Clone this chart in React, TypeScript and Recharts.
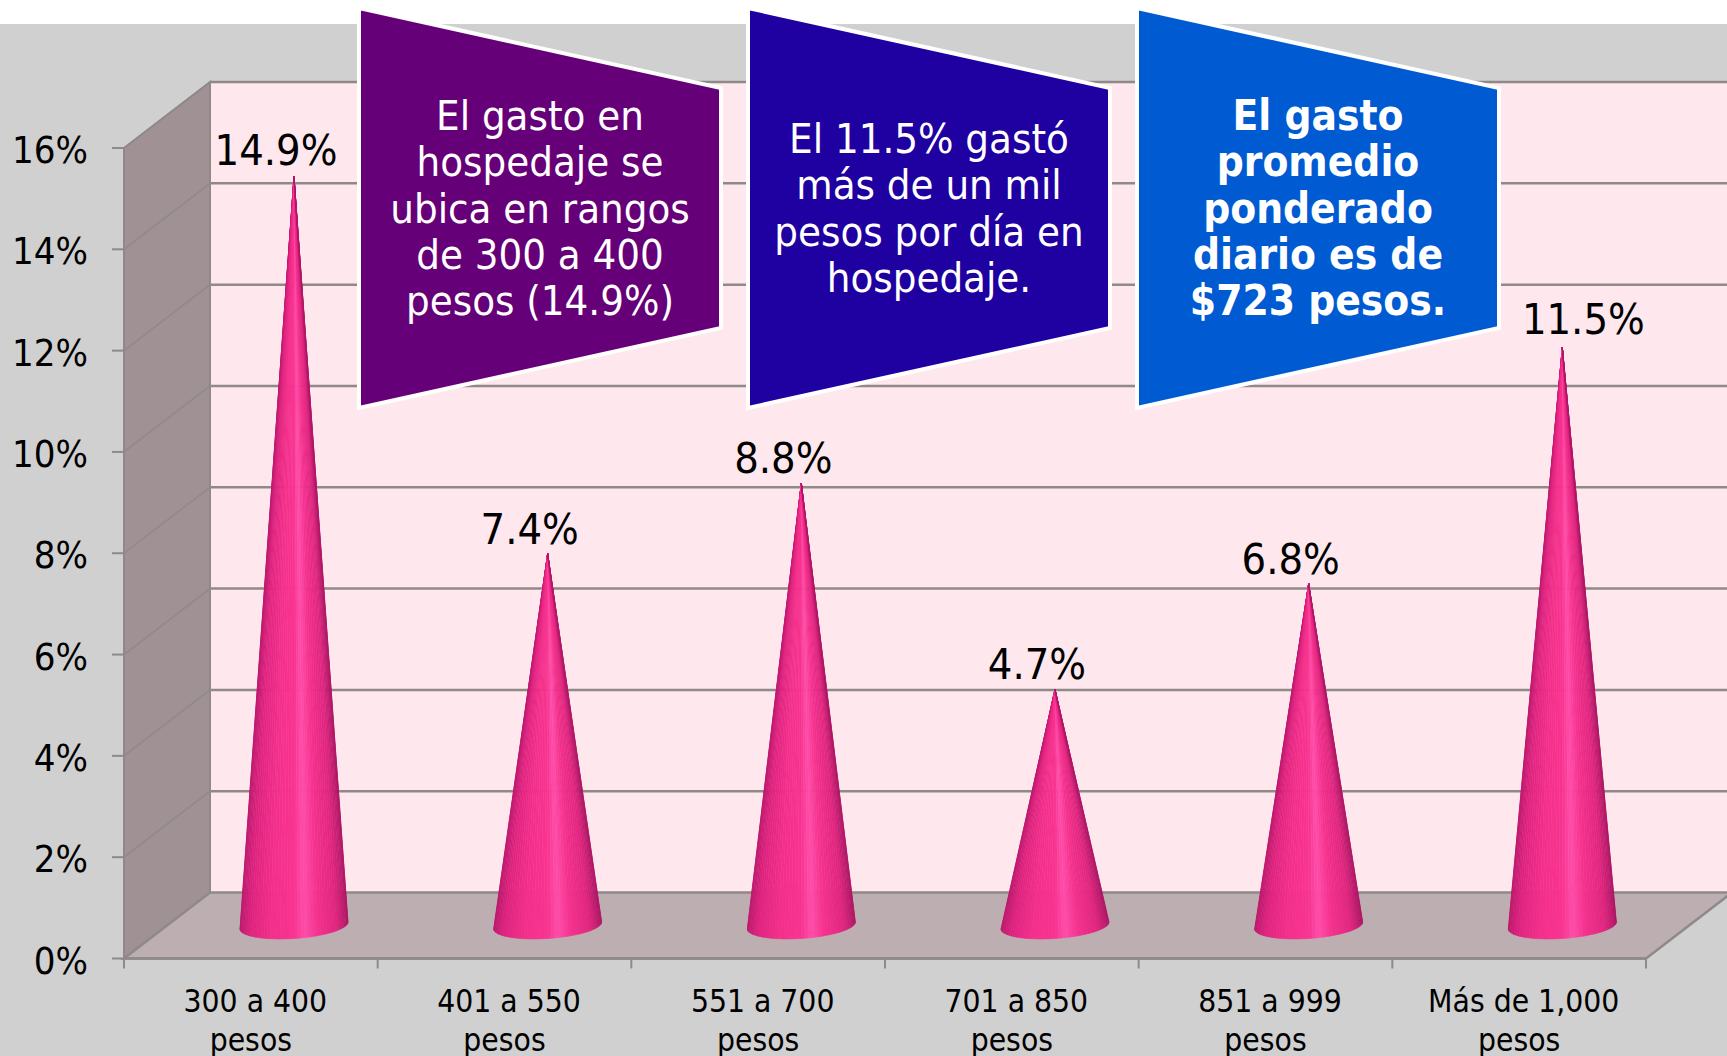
import React from 'react';
import {
  Bar,
  BarChart,
  LabelList,
  ReferenceArea,
  ReferenceLine,
  XAxis,
  YAxis,
} from 'recharts';

const categories = [
  '300 a 400 pesos',
  '401 a 550 pesos',
  '551 a 700 pesos',
  '701 a 850 pesos',
  '851 a 999 pesos',
  'Más de 1,000 pesos',
];
const shares = [14.9, 7.4, 8.8, 4.7, 6.8, 11.5];
const yTicks = [0, 2, 4, 6, 8, 10, 12, 14, 16];

const purpleNote = ['El gasto en', 'hospedaje se', 'ubica en rangos', 'de 300 a 400', 'pesos (14.9%)'];
const indigoNote = ['El 11.5% gastó', 'más de un mil', 'pesos por día en', 'hospedaje.'];
const blueNote = ['El gasto', 'promedio', 'ponderado', 'diario es de', '$723 pesos.'];

const chartData = categories.map((name, i) => ({ name, share: shares[i] }));

const WIDTH = 1727;
const HEIGHT = 1056;
const DEPTH_X = 86;
const DEPTH_Y = 66;
const FONT = '"DejaVu Sans Condensed", "DejaVu Sans", sans-serif';
const LINE = '#8f8989';

// colours across a cone, left edge to right edge
const coneStops: [number, number[]][] = [
  [0, [190, 26, 110]],
  [0.1, [224, 36, 128]],
  [0.3, [244, 48, 140]],
  [0.5, [248, 52, 144]],
  [0.6, [255, 78, 170]],
  [0.72, [245, 50, 142]],
  [0.9, [224, 38, 128]],
  [1, [176, 24, 102]],
];

const coneColor = (t: number) => {
  let k = 1;
  while (k < coneStops.length - 1 && coneStops[k][0] < t) k++;
  const [t0, c0] = coneStops[k - 1];
  const [t1, c1] = coneStops[k];
  const f = (t - t0) / (t1 - t0);
  const c = c0.map((v, j) => Math.round(v + (c1[j] - v) * f));
  return `rgb(${c.join(',')})`;
};

// the floor sits half a depth behind the axis and the cones rise a touch less than the wall scale
const coneTip = (y: number, height: number) => y + height - DEPTH_Y / 2 - height * 0.992;

const Cone = (props: any) => {
  const { x, y, width, height } = props;
  const cx = x + width / 2 + DEPTH_X / 2;
  const tipY = coneTip(y, height);
  const baseY = y + height - DEPTH_Y / 2;
  const rx = width / 2;
  const ry = 13;
  const tilt = 3.5;
  const slices = 48;
  const edge = (i: number) => {
    const theta = Math.PI - (Math.PI * i) / slices;
    return [cx + rx * Math.cos(theta), baseY + ry * Math.sin(theta) - tilt * Math.cos(theta)];
  };
  return (
    <g>
      {Array.from({ length: slices }, (_, i) => {
        const a = edge(i);
        const b = edge(i + 1);
        const fill = coneColor((a[0] + b[0] - 2 * (cx - rx)) / 2 / (2 * rx));
        return (
          <polygon
            key={i}
            points={`${cx},${tipY} ${a[0]},${a[1]} ${b[0]},${b[1]}`}
            fill={fill}
            stroke={fill}
            strokeWidth={0.6}
          />
        );
      })}
    </g>
  );
};

const ShareLabel = (props: any) => {
  const { x, y, width, height, value, index } = props;
  const last = index === categories.length - 1;
  const lift = last ? 14 : index === 0 ? 12 : 10;
  return (
    <text
      x={x + width / 2 + DEPTH_X / 2 + (last ? 21 : -18)}
      y={coneTip(y, height) - lift}
      textAnchor="middle"
      fontFamily={FONT}
      fontSize={43}
      fill="#000"
    >
      {value.toFixed(1)}%
    </text>
  );
};

const YTick = (props: any) => {
  const { x, y, payload } = props;
  return (
    <g>
      <line x1={x - 4} x2={x + 8} y1={y} y2={y} stroke={LINE} strokeWidth={2} />
      <text x={x - 28} y={y + 15} textAnchor="end" fontFamily={FONT} fontSize={38} fill="#000">
        {payload.value}%
      </text>
    </g>
  );
};

const XTick = (props: any) => {
  const { x, y, payload, index } = props;
  const band = (WIDTH - 81 - 124) / categories.length;
  const text: string = payload.value;
  const cut = text.lastIndexOf(' ');
  return (
    <g>
      <line x1={x - band / 2} x2={x - band / 2} y1={y - 8} y2={y + 2} stroke={LINE} strokeWidth={2} />
      {index === categories.length - 1 && (
        <line x1={x + band / 2} x2={x + band / 2} y1={y - 8} y2={y + 2} stroke={LINE} strokeWidth={2} />
      )}
      <text textAnchor="middle" fontFamily={FONT} fontSize={31.5} fill="#000">
        <tspan x={x + 4.5} y={y + 45.5}>{text.slice(0, cut)}</tspan>
        <tspan x={x} y={y + 84}>{text.slice(cut + 1)}</tspan>
      </text>
    </g>
  );
};

const Walls = (props: any) => {
  const { x, y, width, height } = props;
  const backX = x + DEPTH_X;
  const backTop = y - DEPTH_Y;
  const backBottom = y + height - DEPTH_Y;
  const front = y + height;
  const right = x + width;
  return (
    <g>
      <rect x={backX} y={backTop} width={WIDTH - backX} height={height} fill="#fee7ed" />
      <polygon
        points={`${x},${y} ${backX},${backTop} ${backX},${backBottom} ${x},${front}`}
        fill="#a09294"
        stroke={LINE}
        strokeWidth={2}
      />
      <polygon
        points={`${x},${front} ${backX},${backBottom} ${right + DEPTH_X},${backBottom} ${right},${front}`}
        fill="#bdaeb2"
        stroke={LINE}
        strokeWidth={2.5}
      />
    </g>
  );
};

const WallLine = (props: any) => {
  const { x1, y1, y2 } = props;
  const y = Math.min(y1, y2);
  return (
    <g>
      <line x1={x1} y1={y} x2={x1 + DEPTH_X} y2={y - DEPTH_Y} stroke={LINE} strokeWidth={1.5} />
      <line x1={x1 + DEPTH_X} y1={y - DEPTH_Y} x2={WIDTH} y2={y - DEPTH_Y} stroke={LINE} strokeWidth={2.5} />
    </g>
  );
};

const Note = ({ left, lines, fill, bold }: { left: number; lines: string[]; fill: string; bold?: boolean }) => {
  const w = 362;
  const first = 222.5 - ((lines.length - 1) / 2) * 46.3;
  return (
    <g>
      <polygon
        points={`${left},8 ${left + w},88 ${left + w},328 ${left},408`}
        fill={fill}
        stroke="#fff"
        strokeWidth={4}
      />
      {lines.map((line, i) => (
        <text
          key={line}
          x={left + w / 2}
          y={first + i * 46.3}
          textAnchor="middle"
          fontFamily={FONT}
          fontSize={bold ? 42 : 41.5}
          fontWeight={bold ? 700 : 400}
          fill="#fff"
        >
          {line}
        </text>
      ))}
    </g>
  );
};

export default function App() {
  return (
    <div style={{ position: 'absolute', left: 0, top: 0, width: WIDTH, height: HEIGHT, background: '#fff', overflow: 'hidden' }}>
      <div style={{ position: 'absolute', left: 0, top: 24, width: WIDTH, height: HEIGHT - 24, background: '#d0d0d0' }} />
      <div style={{ position: 'absolute', left: 0, top: 0 }}>
        <BarChart
          width={WIDTH}
          height={HEIGHT}
          data={chartData}
          margin={{ top: 148, right: 81, bottom: 0, left: 0 }}
          style={{ overflow: 'visible' }}
        >
          <XAxis
            dataKey="name"
            height={97.5}
            interval={0}
            tick={<XTick />}
            tickLine={false}
            axisLine={{ stroke: LINE, strokeWidth: 2.5 }}
          />
          <YAxis
            width={124}
            domain={[0, 16]}
            ticks={yTicks}
            interval={0}
            tick={<YTick />}
            tickLine={false}
            axisLine={{ stroke: LINE, strokeWidth: 2 }}
          />
          <ReferenceArea y1={0} y2={16} ifOverflow="visible" shape={<Walls />} zIndex={10} />
          {yTicks.slice(1).map((t) => (
            <ReferenceLine key={t} y={t} ifOverflow="visible" shape={<WallLine />} zIndex={20} />
          ))}
          <Bar dataKey="share" barSize={108} shape={<Cone />} isAnimationActive={false}>
            <LabelList dataKey="share" content={<ShareLabel />} />
          </Bar>
        </BarChart>
      </div>
      <svg width={WIDTH} height={HEIGHT} style={{ position: 'absolute', left: 0, top: 0, pointerEvents: 'none' }}>
        <Note left={359} lines={purpleNote} fill="#660078" />
        <Note left={748} lines={indigoNote} fill="#1f00a0" />
        <Note left={1137} lines={blueNote} fill="#005ad2" bold />
      </svg>
    </div>
  );
}
